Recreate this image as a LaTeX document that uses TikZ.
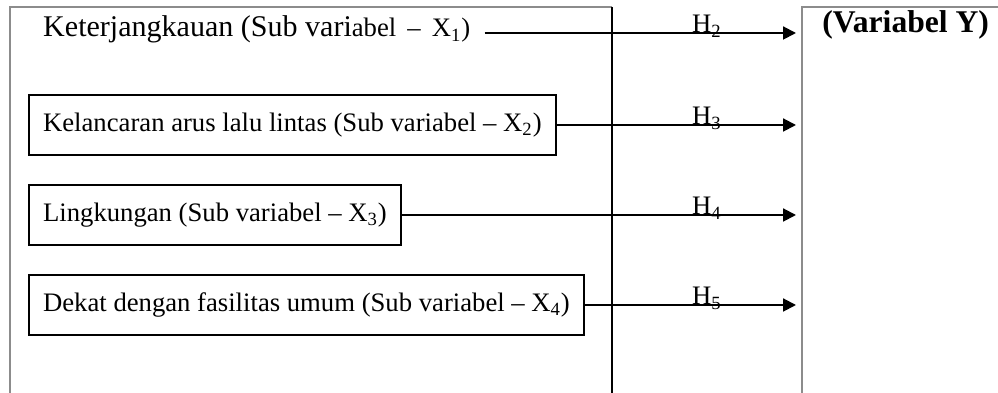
\documentclass[tikz,border=0pt]{standalone}
\usepackage{fontspec}
\setmainfont{Liberation Serif}
\usepackage{tikz}
\usetikzlibrary{arrows.meta,positioning,calc}

\begin{document}
\begin{tikzpicture}[
    x=0.506pt, y=-0.506pt,
    subbox/.style={rectangle, draw, line width=0.9pt, minimum height=30pt, inner xsep=7.2pt, anchor=west, font=\fontsize{13.5}{16}\selectfont},
    hlabel/.style={anchor=base, inner sep=0pt, font=\fontsize{13.5}{16}\selectfont},
    frame/.style={draw=black!45, line width=0.9pt},
    arrow/.style={-{Triangle[length=6.5pt,width=6.5pt]}, line width=1pt}
]
\useasboundingbox (0,0) rectangle (998,393);

% Frames
\draw[frame] (10,393) -- (10,7) -- (612,7);
\draw[line width=0.7pt] (612,7) -- (612,393);
\draw[frame] (802,393) -- (802,7) -- (998,7);

% Sub variables
\node[anchor=base west, inner ysep=0pt, inner xsep=7pt, font=\fontsize{15.2}{18}\selectfont] (sub1) at (29,37)
    {Keterjangkauan (Sub vari{\fontsize{13.5}{16}\selectfont abel \,--\, X\textsubscript{1})}};
\node[subbox] (sub2) at (28,125) {Kelancaran arus lalu lintas (Sub variabel -- X\textsubscript{2})};
\node[subbox] (sub3) at (28,215) {Lingkungan (Sub variabel -- X\textsubscript{3})};
\node[subbox] (sub4) at (28,305) {Dekat dengan fasilitas umum (Sub variabel -- X\textsubscript{4})};

% Variabel Y
\node[anchor=base west, inner sep=0pt, font=\bfseries\fontsize{16}{19}\selectfont] (vary) at (822,33) {(Variabel Y)};

% Arrow ends
\coordinate (y1) at (796,33);
\coordinate (y2) at (796,125);
\coordinate (y3) at (796,215);
\coordinate (y4) at (796,305);

% Hypotheses
\draw[arrow] (sub1.east |- y1) -- (y1);
\draw[arrow] (sub2.east) -- (y2);
\draw[arrow] (sub3.east) -- (y3);
\draw[arrow] (sub4.east) -- (y4);

\node[hlabel] (h2) at (707,33) {H\textsubscript{2}};
\node[hlabel] (h3) at (707,125) {H\textsubscript{3}};
\node[hlabel] (h4) at (707,215) {H\textsubscript{4}};
\node[hlabel] (h5) at (707,305) {H\textsubscript{5}};

\end{tikzpicture}
\end{document}
